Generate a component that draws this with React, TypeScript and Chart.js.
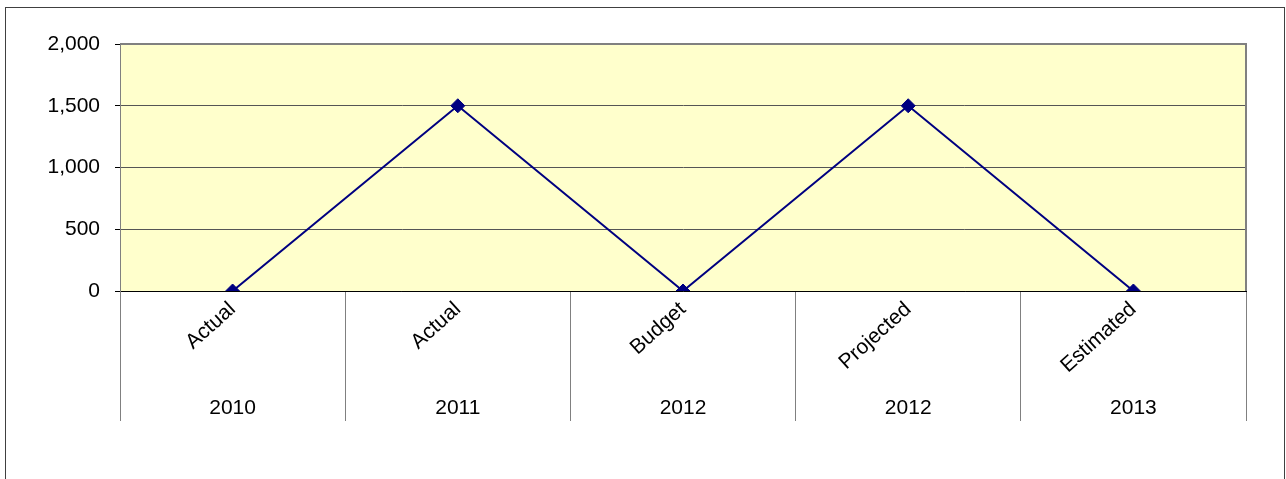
import React, { useEffect, useRef } from "react";
import { Chart, registerables } from "chart.js";

Chart.register(...registerables);

const categories = ["Actual", "Actual", "Budget", "Projected", "Estimated"];
const years = ["2010", "2011", "2012", "2012", "2013"];
const values = [0, 1500, 0, 1500, 0];
const yMin = 0;
const yMax = 2000;
const yStep = 500;

const framePlugin = {
  id: "frame",
  beforeDraw(chart: any) {
    const { ctx, chartArea } = chart;
    ctx.save();
    ctx.fillStyle = "#FFFFCC";
    ctx.fillRect(chartArea.left, chartArea.top, chartArea.right - chartArea.left, chartArea.bottom - chartArea.top);
    ctx.strokeStyle = "#404040";
    ctx.lineWidth = 1;
    ctx.strokeRect(5.5, 7.5, 1279, 490);
    ctx.restore();
  },
  beforeDatasetsDraw(chart: any) {
    const { ctx, chartArea } = chart;
    ctx.save();
    ctx.strokeStyle = "#808080";
    ctx.lineWidth = 2;
    ctx.beginPath();
    ctx.moveTo(chartArea.left, chartArea.top);
    ctx.lineTo(chartArea.right, chartArea.top);
    ctx.lineTo(chartArea.right, chartArea.bottom);
    ctx.stroke();
    ctx.restore();
  },
};

export default function App() {
  const ref = useRef<HTMLCanvasElement>(null);
  useEffect(() => {
    if (!ref.current) return;
    Chart.defaults.font.family = "Arial, 'Liberation Sans', sans-serif";
    Chart.defaults.font.size = 21;
    Chart.defaults.color = "#000";
    const chart = new Chart(ref.current, {
      type: "line",
      data: {
        labels: categories,
        datasets: [
          {
            data: values,
            borderColor: "#000080",
            backgroundColor: "#000080",
            borderWidth: 2,
            pointStyle: "rectRot",
            pointRadius: 7,
            pointBorderWidth: 1,
            pointBorderColor: "#000080",
            pointBackgroundColor: "#000080",
            tension: 0,
            xAxisID: "x",
          },
        ],
      },
      options: {
        animation: false,
        responsive: false,
        layout: { padding: { top: 44, right: 40, left: 0, bottom: 0 } },
        plugins: { legend: { display: false }, tooltip: { enabled: false } },
        scales: {
          x: {
            type: "category",
            position: "bottom",
            weight: 1,
            offset: true,
            grid: {
              offset: true,
              drawOnChartArea: false,
              drawTicks: true,
              tickLength: 100,
              tickColor: "#808080",
              tickWidth: 1,
            },
            border: { display: true, color: "#000", width: 1 },
            ticks: { maxRotation: 42, minRotation: 42, padding: -94, autoSkip: false },
            afterFit(scale: any) {
              scale.height = 100;
            },
          },
          x2: {
            type: "category",
            labels: years,
            position: "bottom",
            weight: 2,
            offset: true,
            grid: {
              display: true,
              offset: true,
              drawOnChartArea: false,
              drawTicks: true,
              tickLength: 30,
              tickColor: "#808080",
              tickWidth: 1,
            },
            border: { display: false },
            ticks: { maxRotation: 0, minRotation: 0, padding: -25, autoSkip: false },
            afterFit(scale: any) {
              scale.height = 88;
            },
          },
          y: {
            min: yMin,
            max: yMax,
            ticks: { stepSize: yStep, padding: 15 },
            grid: { color: "#555", tickColor: "#000", tickLength: 5 },
            border: { display: true, color: "#808080", width: 1 },
            afterFit(scale: any) {
              scale.width = 120;
            },
          },
        },
      },
      plugins: [framePlugin],
    } as any);
    return () => chart.destroy();
  }, []);
  return (
    <div style={{ position: "absolute", left: 0, top: 0, width: 1286, height: 479 }}>
      <canvas ref={ref} width={1286} height={479} style={{ width: 1286, height: 479 }} />
    </div>
  );
}
